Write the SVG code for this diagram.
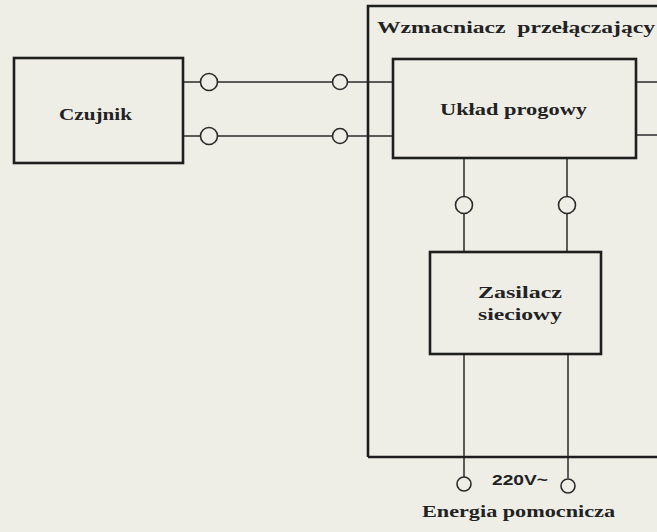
<svg xmlns="http://www.w3.org/2000/svg" width="657" height="532" viewBox="0 0 657 532">
<style>
.box{fill:none;stroke:#1e1e1e;stroke-width:2.6}
.wire{fill:none;stroke:#2a2a2a;stroke-width:1.5}
.term{fill:#eeeee7;stroke:#2a2a2a;stroke-width:1.6}
.lbl{font-family:"Liberation Serif","DejaVu Serif",serif;font-weight:bold;font-size:17px;fill:#222}
.v{font-family:"Liberation Sans",Arial,sans-serif;font-weight:bold;font-size:15px;fill:#222}
</style>
<rect width="657" height="532" fill="#eeeee7"/>
<g id="connectors">
<line class="wire" x1="183" y1="82" x2="393" y2="82"/>
<line class="wire" x1="183" y1="136" x2="393" y2="136"/>
<line class="wire" x1="636" y1="82" x2="657" y2="82"/>
<line class="wire" x1="636" y1="135" x2="657" y2="135"/>
<line class="wire" x1="464" y1="158" x2="464" y2="252"/>
<line class="wire" x1="567" y1="158" x2="567" y2="252"/>
<line class="wire" x1="464" y1="354" x2="464" y2="477"/>
<line class="wire" x1="568" y1="354" x2="568" y2="478"/>
<circle class="term" cx="209" cy="82" r="8.5"/>
<circle class="term" cx="209" cy="136" r="8.5"/>
<circle class="term" cx="340" cy="82" r="7.5"/>
<circle class="term" cx="340" cy="136" r="7.5"/>
<circle class="term" cx="464" cy="205" r="8.5"/>
<circle class="term" cx="567" cy="205" r="8.5"/>
<circle class="term" cx="464" cy="484" r="7"/>
<circle class="term" cx="568" cy="486" r="7"/>
</g>
<g id="wzmacniacz">
<path class="box" d="M368,457 L368,6 L659,6 M368,457 L659,457"/>
<text class="lbl" x="377" y="33" textLength="278" lengthAdjust="spacingAndGlyphs" xml:space="preserve">Wzmacniacz  przełączający</text>
</g>
<g id="czujnik">
<rect class="box" x="14" y="58" width="169" height="105"/>
<text class="lbl" x="59" y="120" textLength="73" lengthAdjust="spacingAndGlyphs">Czujnik</text>
</g>
<g id="uklad">
<rect class="box" x="393" y="59" width="243" height="99"/>
<text class="lbl" x="440" y="115" textLength="147" lengthAdjust="spacingAndGlyphs">Układ progowy</text>
</g>
<g id="zasilacz">
<rect class="box" x="430" y="252" width="171" height="102"/>
<text class="lbl" x="478" y="298" textLength="84" lengthAdjust="spacingAndGlyphs">Zasilacz</text>
<text class="lbl" x="478" y="320" textLength="84" lengthAdjust="spacingAndGlyphs">sieciowy</text>
</g>
<g id="zasilanie">
<text class="v" x="492" y="485" textLength="56" lengthAdjust="spacingAndGlyphs">220V~</text>
<text class="lbl" x="422" y="517" textLength="193" lengthAdjust="spacingAndGlyphs">Energia pomocnicza</text>
</g>
</svg>
